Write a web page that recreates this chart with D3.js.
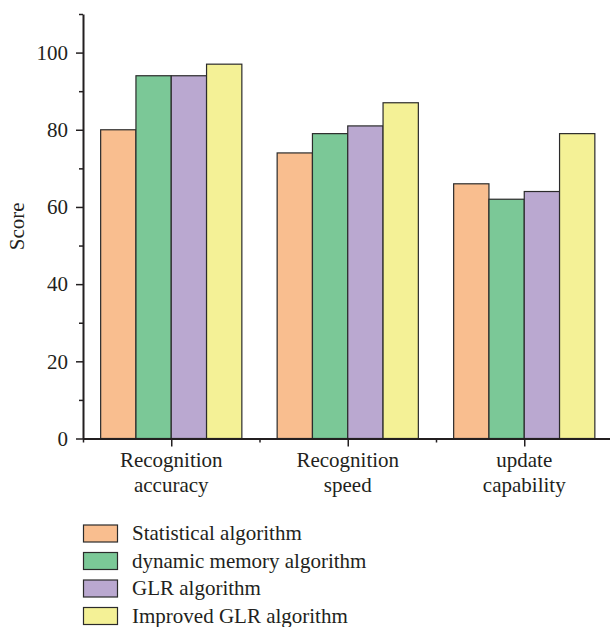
<!DOCTYPE html>
<html><head><meta charset="utf-8">
<script src="https://cdn.jsdelivr.net/npm/d3@7"></script>
<style>body{margin:0;background:#fff}svg{display:block}text{font-family:"Liberation Serif","DejaVu Serif",serif;fill:#231f20}</style>
</head><body><svg id="c" width="610" height="627"></svg>
<script>
const categories = [["Recognition","accuracy"],["Recognition","speed"],["update","capability"]];
const seriesNames = ["Statistical algorithm","dynamic memory algorithm","GLR algorithm","Improved GLR algorithm"];
const seriesColors = ["#F9BE8F","#7BC897","#BAA8D0","#F4F196"];
const statistical = [80,74,66];
const dynamicMemory = [94,79,62];
const glr = [94,81,64];
const improvedGlr = [97,87,79];
const majorTicks = [0,20,40,60,80,100];
const minorTicks = [10,30,50,70,90,110];
const yLabel = "Score";

const values = [statistical,dynamicMemory,glr,improvedGlr];
const svg = d3.select("#c");
const x0 = d3.scaleBand().domain(d3.range(categories.length)).range([83,612.5]).padding(0);
const x1 = d3.scaleBand().domain(d3.range(seriesNames.length)).range([0,x0.bandwidth()]).paddingInner(0).paddingOuter(0.5);
const y = d3.scaleLinear().domain([0,110]).range([438.5,14]);

// bars
const g = svg.append("g");
categories.forEach((c,ci)=>{
  values.forEach((vals,si)=>{
    g.append("rect")
      .attr("x", x0(ci)+x1(si))
      .attr("y", y(vals[ci]))
      .attr("width", x1.bandwidth())
      .attr("height", y(0)-y(vals[ci]))
      .attr("fill", seriesColors[si])
      .attr("stroke","#2b2b2b").attr("stroke-width",1.2);
  });
});

// y axis
const yAxis = svg.append("g").attr("transform","translate(83,0)")
  .call(d3.axisLeft(y).tickValues(majorTicks).tickSize(7).tickSizeOuter(0).tickPadding(8));
svg.append("g").attr("transform","translate(83,0)")
  .call(d3.axisLeft(y).tickValues(minorTicks).tickSize(4).tickSizeOuter(0).tickFormat(""))
  .select(".domain").remove();
yAxis.selectAll("text").style("font-size","21px").attr("fill","#231f20");

// x axis
const xAxis = svg.append("g").attr("transform",`translate(0,${y(0)})`)
  .call(d3.axisBottom(d3.scaleLinear().domain([0,3]).range([83,612.5]))
    .tickValues([0.5,1.5,2.5]).tickSize(8).tickSizeOuter(0).tickFormat(""));
svg.append("g").attr("transform",`translate(0,${y(0)})`)
  .call(d3.axisBottom(d3.scaleLinear().domain([0,3]).range([83,612.5]))
    .tickValues([0,1,2]).tickSize(4).tickSizeOuter(0).tickFormat(""))
  .select(".domain").remove();

svg.selectAll(".domain").attr("stroke","#231f20").attr("stroke-width",2);
svg.selectAll(".tick line").attr("stroke","#231f20").attr("stroke-width",1.5);

// category labels
categories.forEach((c,ci)=>{
  const cx = x0(ci)+x0.bandwidth()/2;
  c.forEach((line,li)=>{
    svg.append("text").attr("x",cx).attr("y",467+li*25)
      .attr("text-anchor","middle").style("font-size","21px").text(line);
  });
});

// y label
svg.append("text").attr("transform",`translate(24,${(y(0)+y(110))/2}) rotate(-90)`)
  .attr("text-anchor","middle").style("font-size","21px").text(yLabel);

// legend
seriesNames.forEach((n,i)=>{
  const yy = 525+i*27.5;
  svg.append("rect").attr("x",83.5).attr("y",yy).attr("width",34).attr("height",17)
    .attr("fill",seriesColors[i]).attr("stroke","#2b2b2b").attr("stroke-width",1.2);
  svg.append("text").attr("x",132).attr("y",yy+15).style("font-size","21px").text(n);
});
</script></body></html>
